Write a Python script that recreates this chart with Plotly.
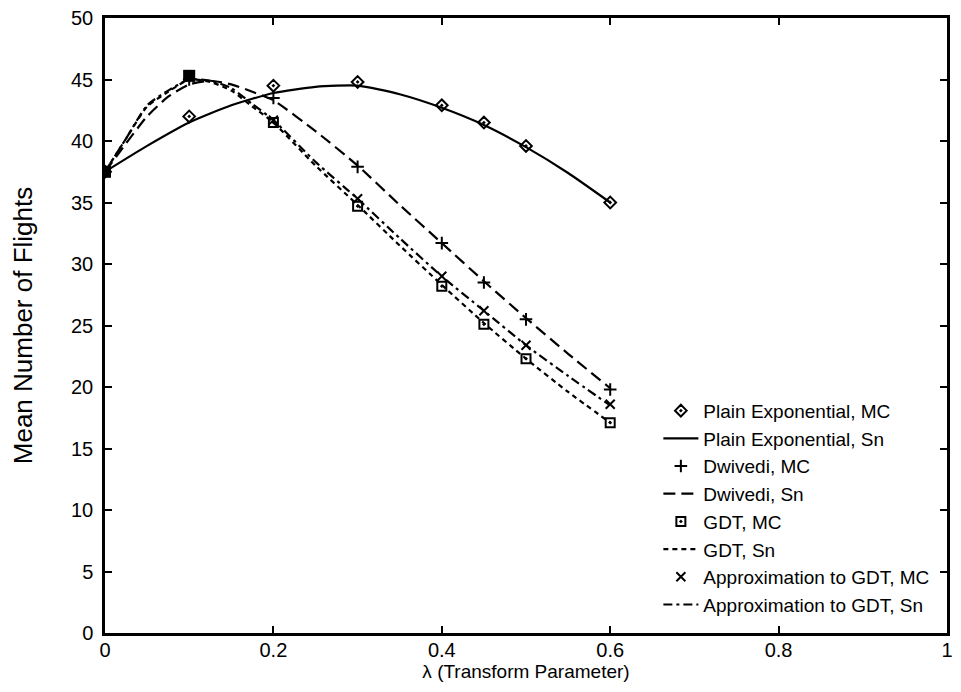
import plotly.graph_objects as go

# ---- data ----
mc_lambda = [0, 0.1, 0.2, 0.3, 0.4, 0.45, 0.5, 0.6]
plain_mc = [37.5, 42.0, 44.5, 44.8, 42.9, 41.5, 39.6, 35.0]
dwivedi_mc = [37.5, 45.0, 43.5, 37.9, 31.7, 28.5, 25.5, 19.8]
gdt_mc = [37.5, 45.3, 41.5, 34.7, 28.2, 25.1, 22.3, 17.1]
approx_mc = [37.5, 45.2, 41.7, 35.3, 29.0, 26.2, 23.4, 18.6]

plain_sn_lambda = [0, 0.05, 0.1, 0.15, 0.2, 0.25, 0.3, 0.35, 0.4, 0.45, 0.5, 0.55, 0.6]
plain_sn = [37.5, 39.6, 41.5, 42.9, 43.9, 44.4, 44.5, 43.8, 42.7, 41.3, 39.5, 37.4, 35.0]

sn_lambda = [0, 0.025, 0.05, 0.075, 0.1, 0.125, 0.15, 0.175, 0.2, 0.25, 0.3,
             0.35, 0.4, 0.45, 0.5, 0.55, 0.6]
dwivedi_sn = [37.5, 39.8, 42.0, 43.6, 44.6, 44.9, 44.6, 44.0, 43.3, 40.8, 38.0,
              34.8, 31.7, 28.6, 25.6, 22.7, 19.9]
gdt_sn = [37.5, 40.2, 42.8, 44.0, 45.0, 44.8, 44.1, 42.8, 41.5, 38.0, 34.8,
          31.5, 28.3, 25.2, 22.3, 19.6, 17.1]
approx_sn = [37.5, 40.2, 42.9, 44.1, 45.0, 44.9, 44.3, 43.0, 41.7, 38.3, 35.3,
             32.1, 29.0, 26.2, 23.4, 20.9, 18.5]

x_ticks = [0, 0.2, 0.4, 0.6, 0.8, 1]
y_ticks = [0, 5, 10, 15, 20, 25, 30, 35, 40, 45, 50]

FONT = "Liberation Sans, Arial, sans-serif"
fig = go.Figure()

def mc(name, y, symbol, size):
    fig.add_trace(go.Scatter(
        x=mc_lambda, y=y, mode="markers", name=name,
        marker=dict(symbol=symbol, size=size, color="black",
                    line=dict(color="black", width=2))))

def sn(name, x, y, dash):
    fig.add_trace(go.Scatter(
        x=x, y=y, mode="lines", name=name,
        line=dict(color="black", width=2.2, dash=dash, shape="spline", smoothing=0.6)))

mc("Plain Exponential, MC", plain_mc, "diamond-open-dot", 9)
sn("Plain Exponential, Sn", plain_sn_lambda, plain_sn, "solid")
mc("Dwivedi, MC", dwivedi_mc, "cross-thin", 9)
sn("Dwivedi, Sn", sn_lambda, dwivedi_sn, "12px,6px")
mc("GDT, MC", gdt_mc, "square-open-dot", 9)
sn("GDT, Sn", sn_lambda, gdt_sn, "5px,4px")
mc("Approximation to GDT, MC", approx_mc, "x-thin", 9)
sn("Approximation to GDT, Sn", sn_lambda, approx_sn, "9px,4px,3px,4px")

# where all four MC markers coincide (lambda = 0 and 0.1) they merge into a solid block
fig.add_trace(go.Scatter(
    x=mc_lambda[:2], y=gdt_mc[:2], mode="markers", showlegend=False,
    marker=dict(symbol="square", size=12, color="black")))

axis_common = dict(
    showline=True, linecolor="black", linewidth=2.5, mirror="ticks",
    ticks="inside", ticklen=7, tickwidth=1.5, tickcolor="black",
    showgrid=False, zeroline=False, automargin=False,
    ticklabeloverflow="allow",
    tickfont=dict(family=FONT, size=20, color="black"),
)

# page body has an 8px default margin: figure is shrunk/offset so the plot
# area lands at about x 105..947, y 18..633 of the window
fig.update_layout(
    width=953, height=684,
    margin=dict(l=97, r=14, t=10, b=59),
    plot_bgcolor="white", paper_bgcolor="white",
    font=dict(family=FONT, size=19, color="black"),
    showlegend=True,
    legend=dict(x=0.985, y=0.015, xanchor="right", yanchor="bottom",
                bgcolor="rgba(0,0,0,0)", font=dict(family=FONT, size=19),
                tracegroupgap=0, itemwidth=35),
    xaxis=dict(range=[0, 1], tickvals=x_ticks, ticktext=[str(t) for t in x_ticks],
               ticklabelstandoff=-3,
               title=dict(text="λ (Transform Parameter)", standoff=0,
                          font=dict(family=FONT, size=19)),
               **axis_common),
    yaxis=dict(range=[0, 50], tickvals=y_ticks, ticklabelstandoff=5,
               title=dict(text="Mean Number of Flights", standoff=32,
                          font=dict(family=FONT, size=26)),
               **axis_common),
)

fig.write_html("out.html")
